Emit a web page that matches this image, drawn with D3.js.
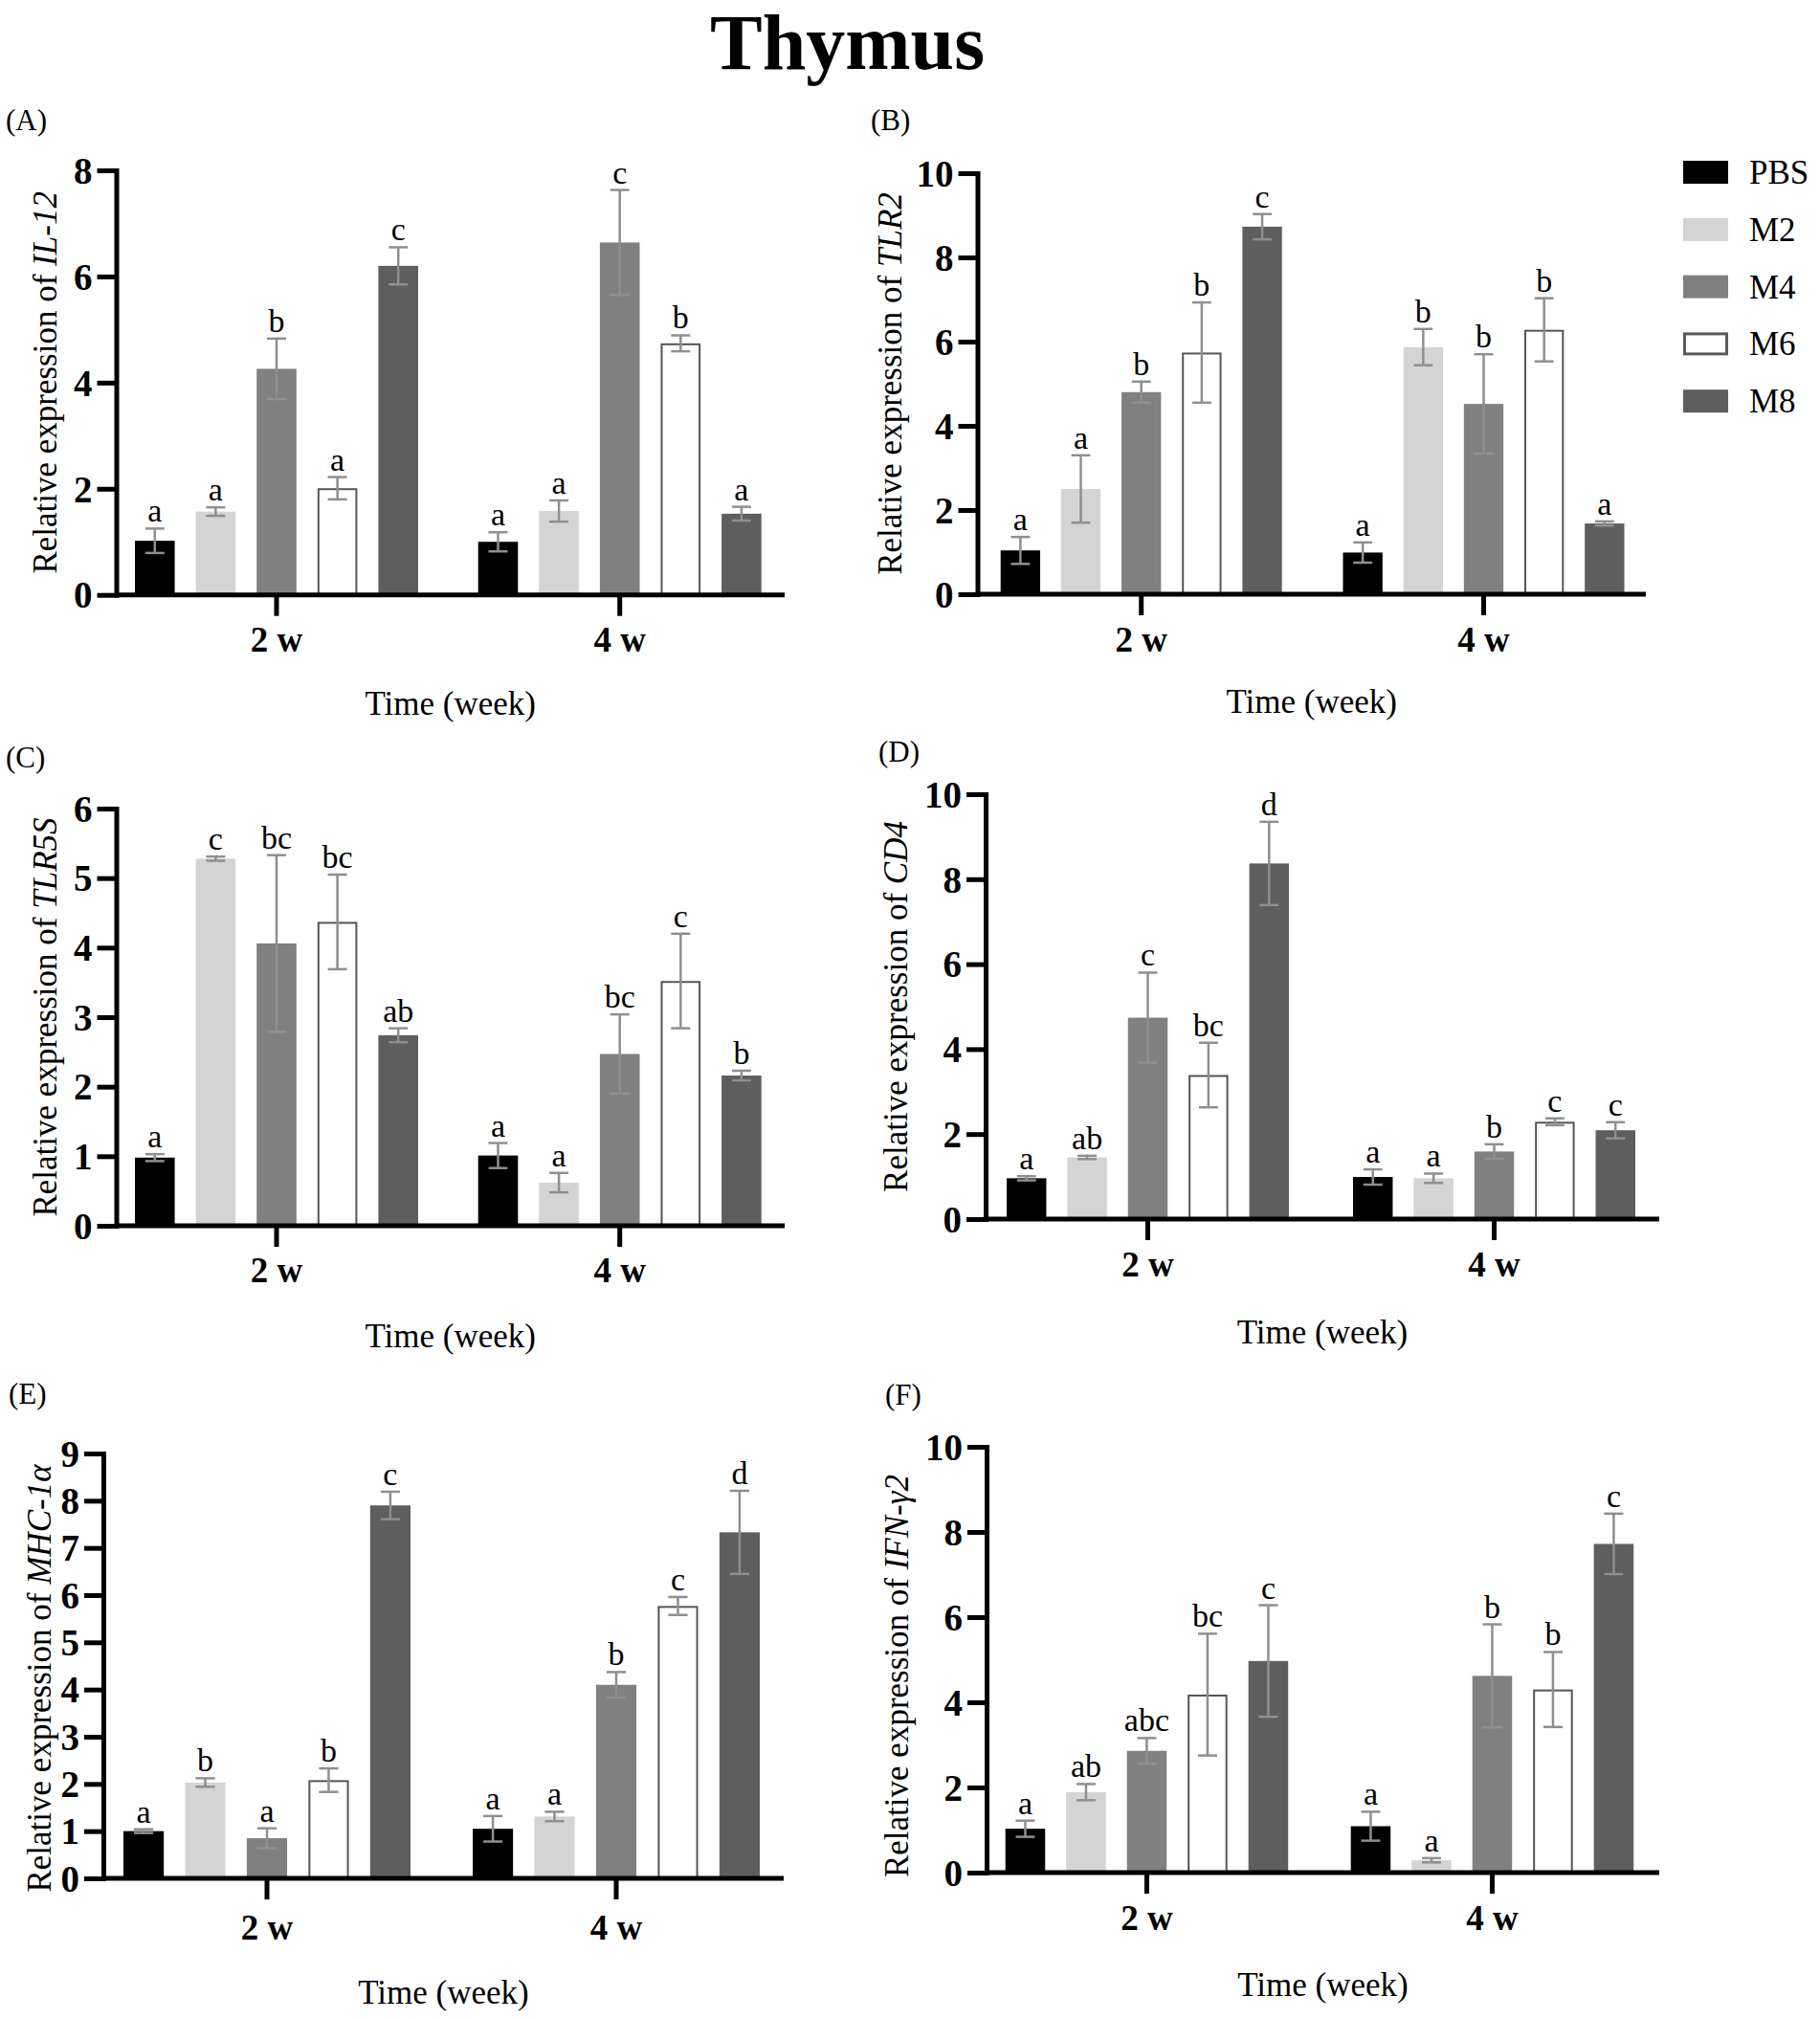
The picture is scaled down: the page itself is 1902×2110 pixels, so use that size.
<!DOCTYPE html>
<html><head><meta charset="utf-8">
<script src="https://cdn.jsdelivr.net/npm/d3@7"></script>
<style>body{margin:0;background:#fff}svg{display:block;background:#fff}</style>
</head><body><svg id="chart" width="1902" height="2110"></svg>
<script>
// ---------- DATA ----------
const groups = ["2 w", "4 w"];
const seriesNames = ["PBS", "M2", "M4", "M6", "M8"];

// (A) IL-12
const il12Mean = [[1.02, 1.57, 4.26, 2.01, 6.20], [1.00, 1.58, 6.64, 4.74, 1.53]];
const il12Err  = [[0.23, 0.08, 0.57, 0.21, 0.35], [0.18, 0.20, 0.99, 0.15, 0.13]];
const il12Let  = [["a", "a", "b", "a", "c"], ["a", "a", "c", "b", "a"]];
const il12Ticks = [0, 2, 4, 6, 8];

// (B) TLR2
const tlr2Mean = [[1.04, 2.50, 4.80, 5.74, 8.73], [0.99, 5.87, 4.52, 6.28, 1.68]];
const tlr2Err  = [[0.32, 0.80, 0.25, 1.19, 0.30], [0.24, 0.43, 1.18, 0.75, 0.05]];
const tlr2Let  = [["a", "a", "b", "b", "c"], ["a", "b", "b", "b", "a"]];
const tlr2Ticks = [0, 2, 4, 6, 8, 10];

// (C) TLR5S
const tlr5sMean = [[0.98, 5.28, 4.06, 4.37, 2.74], [1.01, 0.62, 2.47, 3.52, 2.16]];
const tlr5sErr  = [[0.05, 0.03, 1.27, 0.68, 0.10], [0.18, 0.14, 0.57, 0.68, 0.07]];
const tlr5sLet  = [["a", "c", "bc", "bc", "ab"], ["a", "a", "bc", "c", "b"]];
const tlr5sTicks = [0, 1, 2, 3, 4, 5, 6];

// (D) CD4
const cd4Mean = [[0.96, 1.45, 4.74, 3.39, 8.37], [0.99, 0.96, 1.59, 2.29, 2.09]];
const cd4Err  = [[0.05, 0.04, 1.06, 0.76, 0.98], [0.18, 0.11, 0.17, 0.08, 0.19]];
const cd4Let  = [["a", "ab", "c", "bc", "d"], ["a", "a", "b", "c", "c"]];
const cd4Ticks = [0, 2, 4, 6, 8, 10];

// (E) MHC-1α
const mhcMean = [[1.00, 2.03, 0.85, 2.08, 7.90], [1.05, 1.31, 4.10, 5.77, 7.33]];
const mhcErr  = [[0.04, 0.09, 0.21, 0.25, 0.29], [0.27, 0.10, 0.27, 0.19, 0.88]];
const mhcLet  = [["a", "b", "a", "b", "c"], ["a", "a", "b", "c", "d"]];
const mhcTicks = [0, 1, 2, 3, 4, 5, 6, 7, 8, 9];

// (F) IFN-γ2
const ifnMean = [[1.03, 1.89, 2.86, 4.18, 4.97], [1.09, 0.29, 4.62, 4.30, 7.72]];
const ifnErr  = [[0.19, 0.19, 0.30, 1.43, 1.31], [0.34, 0.05, 1.21, 0.88, 0.71]];
const ifnLet  = [["a", "ab", "abc", "bc", "c"], ["a", "a", "b", "b", "c"]];
const ifnTicks = [0, 2, 4, 6, 8, 10];

const panelLabels = ["(A)", "(B)", "(C)", "(D)", "(E)", "(F)"];
const geneNames = ["IL-12", "TLR2", "TLR5S", "CD4", "MHC-1α", "IFN-γ2"];
const xTitle = "Time (week)";
const chartTitle = "Thymus";

// ---------- STYLE / LAYOUT ----------
const FONT = '"Liberation Serif","Times New Roman",Times,serif';
const fills = ["#000000", "#d4d4d4", "#808080", "#ffffff", "#5e5e5e"];
const errColor = "#8f8f8f";

const layouts = [
  {axisX: 121.5, top: 178, zero: 621.7, xEnd: 820, barStart: 141, gw: 296, step: 358.7, labX: 6, labY: 136, ylabX: 47, ylabOff: 0, wkY: 681, timeY: 747},
  {axisX: 1021.5, top: 181, zero: 621, xEnd: 1720, barStart: 1045.7, gw: 294, step: 357.8, labX: 910, labY: 136, ylabX: 930, ylabOff: 0, wkY: 681, timeY: 745},
  {axisX: 121.5, top: 845, zero: 1281, xEnd: 820, barStart: 141, gw: 296, step: 358.7, labX: 6, labY: 802, ylabX: 47, ylabOff: 0, wkY: 1340, timeY: 1408},
  {axisX: 1030, top: 830, zero: 1274, xEnd: 1734, barStart: 1052, gw: 295, step: 362, labX: 918, labY: 796, ylabX: 936, ylabOff: 0, wkY: 1334, timeY: 1404},
  {axisX: 108, top: 1519, zero: 1963, xEnd: 819, barStart: 129, gw: 300, step: 365, labX: 9, labY: 1467, ylabX: 41, ylabOff: 13, wkY: 2027, timeY: 2094},
  {axisX: 1031, top: 1512, zero: 1957, xEnd: 1734, barStart: 1050.7, gw: 295.5, step: 361, labX: 925, labY: 1468, ylabX: 937, ylabOff: 17, wkY: 2017, timeY: 2086}
];

const panels = [
  {means: il12Mean, errs: il12Err, letters: il12Let, ticks: il12Ticks},
  {means: tlr2Mean, errs: tlr2Err, letters: tlr2Let, ticks: tlr2Ticks},
  {means: tlr5sMean, errs: tlr5sErr, letters: tlr5sLet, ticks: tlr5sTicks},
  {means: cd4Mean, errs: cd4Err, letters: cd4Let, ticks: cd4Ticks},
  {means: mhcMean, errs: mhcErr, letters: mhcLet, ticks: mhcTicks},
  {means: ifnMean, errs: ifnErr, letters: ifnLet, ticks: ifnTicks}
];

const svg = d3.select("#chart");

// Title
svg.append("text").attr("x", 885.5).attr("y", 72)
  .attr("text-anchor", "middle").attr("font-family", FONT)
  .attr("font-weight", "bold").attr("font-size", 82).text(chartTitle);

function drawPanel(p, L, idx) {
  const g = svg.append("g");
  const y = d3.scaleLinear().domain([0, p.ticks[p.ticks.length - 1]]).range([L.zero, L.top]);
  const x0 = d3.scaleBand().domain(groups)
    .range([L.barStart, L.barStart + L.step + L.gw])
    .paddingInner((L.step - L.gw) / L.step).paddingOuter(0);
  const x1 = d3.scaleBand().domain(seriesNames)
    .range([0, x0.bandwidth()]).paddingInner(0.346).paddingOuter(0);
  const bw = x1.bandwidth();

  const rows = groups.flatMap((grp, gi) => seriesNames.map((s, si) => ({
    grp, s, si, mean: p.means[gi][si], err: p.errs[gi][si], letter: p.letters[gi][si]
  })));

  // bars
  g.selectAll("rect.bar").data(rows).join("rect").attr("class", "bar")
    .attr("x", d => x0(d.grp) + x1(d.s) + (d.s === "M6" ? 1 : 0))
    .attr("y", d => y(d.mean) + (d.s === "M6" ? 1 : 0))
    .attr("width", d => bw - (d.s === "M6" ? 2 : 0))
    .attr("height", d => y(0) - y(d.mean))
    .attr("fill", d => fills[d.si])
    .attr("stroke", d => d.s === "M6" ? "#555" : "none")
    .attr("stroke-width", 2);

  // error bars
  const cx = d => x0(d.grp) + x1(d.s) + bw / 2;
  const capW = bw * 0.48;
  const eg = g.append("g").attr("stroke", errColor).attr("stroke-width", 2.5);
  eg.selectAll("line.v").data(rows).join("line").attr("class", "v")
    .attr("x1", cx).attr("x2", cx)
    .attr("y1", d => y(d.mean - d.err)).attr("y2", d => y(d.mean + d.err));
  eg.selectAll("line.t").data(rows).join("line").attr("class", "t")
    .attr("x1", d => cx(d) - capW / 2).attr("x2", d => cx(d) + capW / 2)
    .attr("y1", d => y(d.mean + d.err)).attr("y2", d => y(d.mean + d.err));
  eg.selectAll("line.b").data(rows).join("line").attr("class", "b")
    .attr("x1", d => cx(d) - capW / 2).attr("x2", d => cx(d) + capW / 2)
    .attr("y1", d => y(d.mean - d.err)).attr("y2", d => y(d.mean - d.err));

  // significance letters
  g.selectAll("text.let").data(rows).join("text").attr("class", "let")
    .attr("x", cx).attr("y", d => y(d.mean + d.err) - 7)
    .attr("text-anchor", "middle").attr("font-family", FONT)
    .attr("font-size", 34).text(d => d.letter);

  // x axis line
  g.append("line").attr("x1", L.axisX).attr("x2", L.xEnd)
    .attr("y1", L.zero).attr("y2", L.zero)
    .attr("stroke", "#000").attr("stroke-width", 5);

  // x axis ticks
  const xa = g.append("g").attr("transform", `translate(0,${L.zero})`)
    .call(d3.axisBottom(x0).tickSize(22).tickSizeOuter(0));
  xa.select(".domain").remove();
  xa.selectAll(".tick line").attr("stroke", "#000").attr("stroke-width", 5);
  xa.selectAll(".tick text").attr("y", L.wkY - L.zero).attr("dy", 0)
    .attr("fill", "#000").attr("font-family", FONT).attr("font-weight", "bold").attr("font-size", 37);

  // y axis
  const ya = g.append("g").attr("transform", `translate(${L.axisX},0)`)
    .call(d3.axisLeft(y).tickValues(p.ticks).tickFormat(d3.format("d")).tickSize(20).tickSizeOuter(0).tickPadding(5));
  ya.select(".domain").attr("stroke", "#000").attr("stroke-width", 5).attr("stroke-linecap", "square");
  ya.selectAll(".tick line").attr("stroke", "#000").attr("stroke-width", 5);
  ya.selectAll(".tick text").attr("fill", "#000").attr("font-family", FONT)
    .attr("font-weight", "bold").attr("font-size", 39).attr("dy", "0.34em");

  // y label
  const yl = g.append("text")
    .attr("transform", `translate(${L.ylabX},${(L.top + L.zero) / 2 + L.ylabOff}) rotate(-90)`)
    .attr("text-anchor", "middle").attr("dy", "0.35em")
    .attr("font-family", FONT).attr("font-size", 35);
  yl.append("tspan").text("Relative expression of ");
  yl.append("tspan").attr("font-style", "italic").text(geneNames[idx]);

  // x title
  g.append("text").attr("x", (L.axisX + L.xEnd) / 2).attr("y", L.timeY)
    .attr("text-anchor", "middle").attr("font-family", FONT).attr("font-size", 35)
    .text(xTitle);

  // panel label
  g.append("text").attr("x", L.labX).attr("y", L.labY)
    .attr("font-family", FONT).attr("font-size", 31).text(panelLabels[idx]);
}

panels.forEach((p, i) => drawPanel(p, layouts[i], i));

// legend
const legend = svg.append("g").attr("transform", "translate(1759,180)");
const lg = legend.selectAll("g").data(seriesNames).join("g")
  .attr("transform", (d, i) => `translate(0,${i * 59.8})`);
lg.append("rect").attr("x", d => d === "M6" ? 1.5 : 0).attr("y", d => d === "M6" ? -10.5 : -12)
  .attr("width", d => d === "M6" ? 44 : 47).attr("height", d => d === "M6" ? 21 : 24)
  .attr("fill", (d, i) => fills[i])
  .attr("stroke", d => d === "M6" ? "#5a5a5a" : "none").attr("stroke-width", 3);
lg.append("text").attr("x", 69).attr("y", 12)
  .attr("font-family", FONT).attr("font-size", 35).text(d => d);
</script>
</body></html>
